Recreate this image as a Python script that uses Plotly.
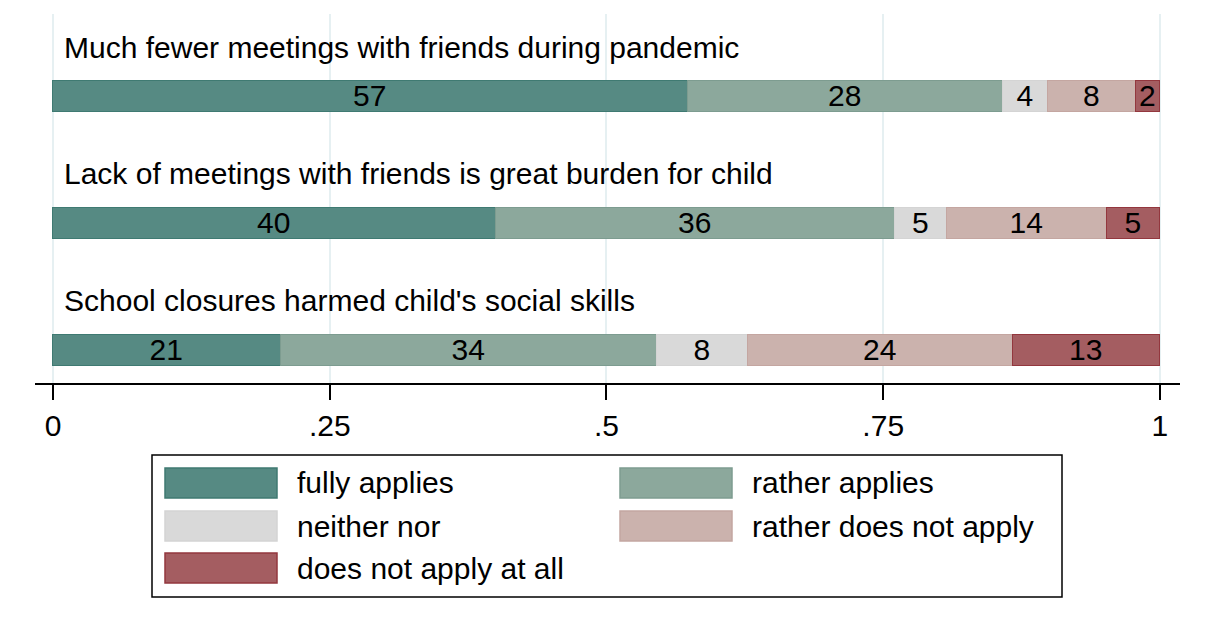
import plotly.graph_objects as go

items = [
    "Much fewer meetings with friends during pandemic",
    "Lack of meetings with friends is great burden for child",
    "School closures harmed child's social skills",
]
categories = ["fully applies", "rather applies", "neither nor",
              "rather does not apply", "does not apply at all"]
# shares (percent) per category, one value per item (top to bottom)
fully_applies = [57.4, 40.0, 20.6]
rather_applies = [28.4, 36.1, 34.0]
neither_nor = [4.1, 4.7, 8.2]
rather_not = [7.9, 14.4, 23.9]
not_at_all = [2.2, 4.8, 13.3]
tick_vals = [0, 0.25, 0.5, 0.75, 1]
tick_text = ["0", ".25", ".5", ".75", "1"]

series = [fully_applies, rather_applies, neither_nor, rather_not, not_at_all]
fills = ["#568a83", "#8ca89c", "#d9d9d9", "#cbb2ad", "#a45d61"]
lines = ["#3f7a72", "#7d9c90", "#d4d4d4", "#c4a6a1", "#93373e"]

FONT = "Arial, Liberation Sans, sans-serif"
FS = 30

fig = go.Figure()
ypos = list(range(len(items)))
for name, vals, fc, lc in zip(categories, series, fills, lines):
    fig.add_trace(go.Bar(
        y=ypos, x=[v / 100 for v in vals], orientation="h", name=name,
        marker=dict(color=fc, line=dict(color=lc, width=1.5)),
        width=0.244,
        text=[str(round(v)) for v in vals],
        textposition="inside", insidetextanchor="middle",
        constraintext="none", textangle=0,
        textfont=dict(family=FONT, size=FS, color="black"),
        showlegend=False, hoverinfo="skip",
    ))

for i, lab in enumerate(items):
    fig.add_annotation(x=0.0085, y=i - 0.39, text=lab, showarrow=False,
                       xanchor="left", yanchor="middle",
                       font=dict(family=FONT, size=FS, color="black"))

# legend box (drawn manually to reproduce the large swatches)
PW, PH = 1145, 369
fig.add_shape(type="rect", xref="paper", yref="paper",
              x0=(152 - 35) / PW, x1=(1062 - 35) / PW,
              y0=-(597 - 383) / PH, y1=-(455 - 383) / PH,
              line=dict(color="black", width=1.5), fillcolor="white")
leg_pos = [(165, 468), (620, 468), (165, 511), (620, 511), (165, 553)]
for name, fc, lc, (px, py) in zip(categories, fills, lines, leg_pos):
    fig.add_shape(type="rect", xref="paper", yref="paper",
                  x0=(px - 35) / PW, x1=(px + 112 - 35) / PW,
                  y0=-(py + 30 - 383) / PH, y1=-(py - 383) / PH,
                  line=dict(color=lc, width=1.5), fillcolor=fc)
    fig.add_annotation(xref="paper", yref="paper",
                       x=(px + 130 - 35) / PW, y=-(py + 15 - 383) / PH,
                       text=name, showarrow=False, xanchor="left", yanchor="middle",
                       font=dict(family=FONT, size=FS, color="black"))

fig.update_layout(
    barmode="stack",
    width=1192, height=624,
    margin=dict(l=27, r=20, t=6, b=249),
    paper_bgcolor="white", plot_bgcolor="white",
    font=dict(family=FONT, size=FS, color="black"),
    bargap=0,
)
fig.update_xaxes(range=[-0.01626, 1.0181], tickvals=tick_vals, ticktext=tick_text,
                 showgrid=True, gridcolor="#e6f0f2", gridwidth=1.5,
                 zeroline=False, showline=True, linecolor="black", linewidth=2,
                 ticks="outside", ticklen=15, tickwidth=1.5, tickcolor="black",
                 tickfont=dict(family=FONT, size=FS, color="black"))
fig.update_yaxes(range=[2.256, -0.65], showticklabels=False, showgrid=False,
                 zeroline=False, showline=False)

fig.write_html("out.html")
